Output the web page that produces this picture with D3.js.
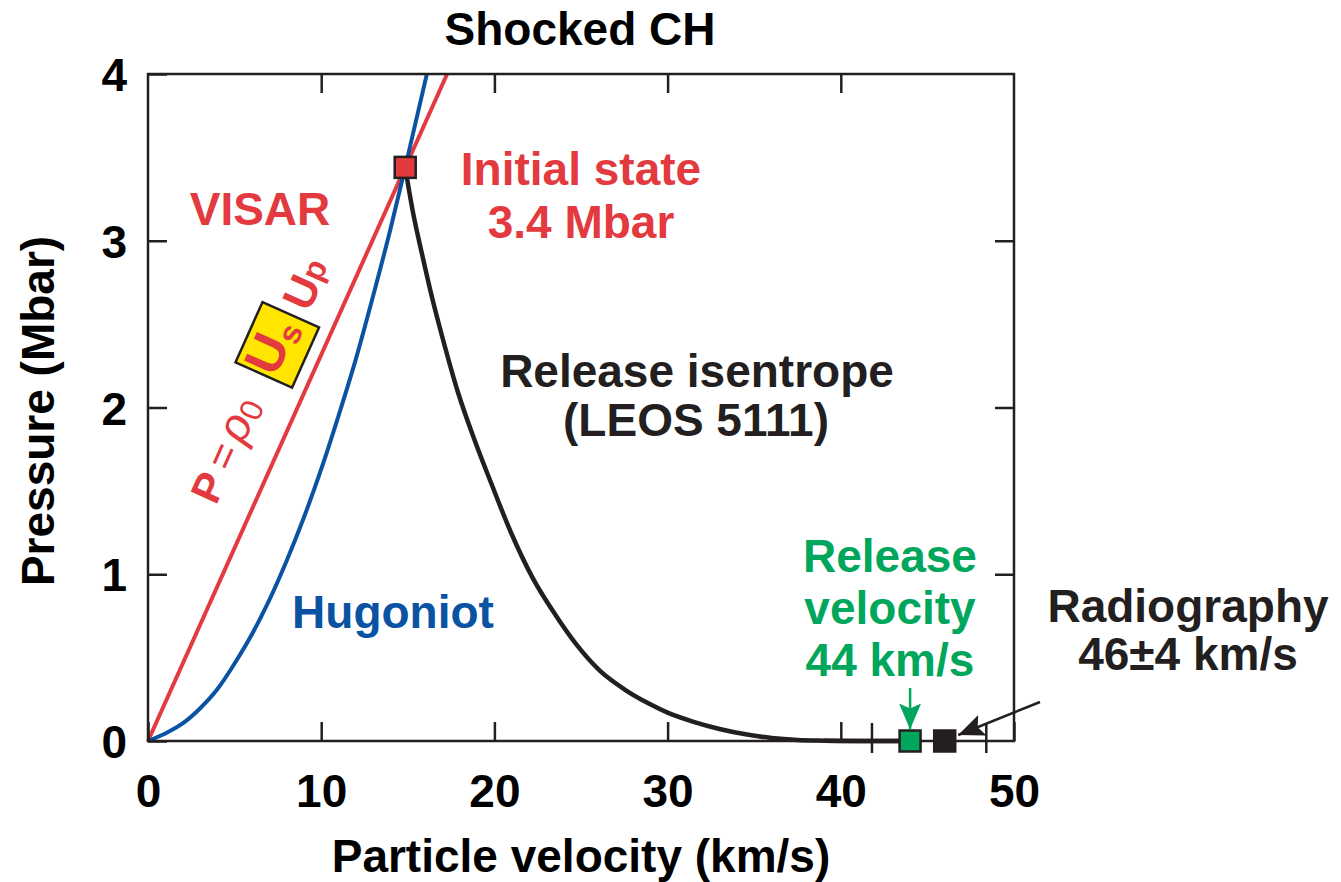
<!DOCTYPE html>
<html>
<head>
<meta charset="utf-8">
<script src="https://cdn.jsdelivr.net/npm/d3@7"></script>
<style>
  html, body { margin: 0; padding: 0; background: #fff; }
  svg { display: block; }
  text { font-family: "Liberation Sans", Arial, Helvetica, sans-serif; font-weight: bold; }
</style>
</head>
<body>
<svg id="chart" width="1341" height="882"></svg>
<script>
// Axis ticks
const xTicks = [0, 10, 20, 30, 40, 50];
const yTicks = [0, 1, 2, 3, 4];

// VISAR line P = rho0 * Us * Up (straight line through the initial state)
const visarU = [0, 17.27];
const visarP = [0, 4.0];

// Principal Hugoniot of CH
const hugoniotU = [0, 1, 2, 3, 4, 5, 6, 7, 8, 9, 10, 11, 12, 13, 14, 14.85, 16.1];
const hugoniotP = [0, 0.045, 0.105, 0.195, 0.31, 0.465, 0.64, 0.845, 1.08, 1.34, 1.63, 1.95, 2.29, 2.67, 3.07, 3.44, 4.0];

// Release isentrope (LEOS 5111) from the initial state
const isentropeU = [14.85, 15.3, 15.8, 16.4, 17.0, 17.9, 18.8, 19.8, 21.0, 22.2, 23.5, 24.8, 26.1, 27.5, 29.0, 30.0, 31.5, 33.0, 34.5, 36.0, 37.5, 39.0, 41.0, 44.0];
const isentropeP = [3.44, 3.17, 2.93, 2.66, 2.42, 2.09, 1.82, 1.55, 1.24, 0.98, 0.76, 0.57, 0.42, 0.31, 0.22, 0.17, 0.115, 0.072, 0.04, 0.018, 0.006, 0.002, 0, 0];

// Marked states
const initialState = [14.85, 3.44];
const releaseVelocity = [44, 0];
const radiographyVelocity = [46, 0];
const radiographyBounds = [41.8, 48.4];

const RED = "#E23A3F", BLUE = "#0A52A2", GREEN = "#00A65B", INK = "#231F20", YELLOW = "#FFE500";

const svg = d3.select("#chart");
const x = d3.scaleLinear().domain([0, 50]).range([148, 1014]);
const y = d3.scaleLinear().domain([0, 4]).range([741, 74]);

const zip = (us, ps) => us.map((u, i) => [u, ps[i]]);
const line = d3.line().x(d => x(d[0])).y(d => y(d[1]));
const smooth = d3.line().x(d => x(d[0])).y(d => y(d[1])).curve(d3.curveMonotoneX);

// Curves
svg.append("path").datum(zip(visarU, visarP)).attr("d", line)
  .attr("fill", "none").attr("stroke", RED).attr("stroke-width", 4);
svg.append("path").datum(zip(hugoniotU, hugoniotP)).attr("d", smooth)
  .attr("fill", "none").attr("stroke", BLUE).attr("stroke-width", 4);
svg.append("path").datum(zip(isentropeU, isentropeP)).attr("d", smooth)
  .attr("fill", "none").attr("stroke", INK).attr("stroke-width", 4.5);

// Axes: ticks inward on all four sides, labels left and bottom
const tickLen = 19;
const axisStyle = g => {
  g.select(".domain").remove();
  g.selectAll(".tick line").attr("stroke", INK).attr("stroke-width", 2.5);
};
svg.append("g").attr("transform", `translate(0,${y(0)})`)
  .call(d3.axisBottom(x).tickValues(xTicks).tickSize(-tickLen).tickPadding(tickLen + 14).tickFormat(d3.format("d")))
  .call(axisStyle)
  .call(g => g.selectAll(".tick text").attr("font-size", 46).attr("fill", "#000")
    .attr("font-family", "Liberation Sans, Arial, sans-serif").attr("font-weight", "bold"));
svg.append("g").attr("transform", `translate(0,${y(4)})`)
  .call(d3.axisTop(x).tickValues(xTicks.slice(1, -1)).tickSize(-tickLen).tickFormat(""))
  .call(axisStyle);
svg.append("g").attr("transform", `translate(${x(0)},0)`)
  .call(d3.axisLeft(y).tickValues(yTicks).tickSize(-tickLen).tickPadding(21).tickFormat(d3.format("d")))
  .call(axisStyle)
  .call(g => g.selectAll(".tick text").attr("font-size", 46).attr("fill", "#000").attr("dy", "0.36em")
    .attr("font-family", "Liberation Sans, Arial, sans-serif").attr("font-weight", "bold"));
svg.append("g").attr("transform", `translate(${x(50)},0)`)
  .call(d3.axisRight(y).tickValues(yTicks.slice(1, -1)).tickSize(-tickLen).tickFormat(""))
  .call(axisStyle);

// Radiography uncertainty marks crossing the axis
svg.selectAll(".errtick").data(radiographyBounds).join("line")
  .attr("x1", d => x(d)).attr("x2", d => x(d))
  .attr("y1", y(0) - 18).attr("y2", y(0) + 12)
  .attr("stroke", INK).attr("stroke-width", 2.5);

// Frame
svg.append("rect").attr("x", x(0)).attr("y", y(4))
  .attr("width", x(50) - x(0)).attr("height", y(0) - y(4))
  .attr("fill", "none").attr("stroke", INK).attr("stroke-width", 2.5);

// Isentrope continues along the axis to the release velocity
svg.append("path").datum(zip(isentropeU.slice(-3), isentropeP.slice(-3))).attr("d", line)
  .attr("fill", "none").attr("stroke", INK).attr("stroke-width", 4.5);

// Markers
const sq = 21;
const marker = (pt, fill) => svg.append("rect")
  .attr("x", x(pt[0]) - sq / 2).attr("y", y(pt[1]) - sq / 2)
  .attr("width", sq).attr("height", sq)
  .attr("fill", fill).attr("stroke", INK).attr("stroke-width", 2.5);
marker(initialState, RED);
marker(releaseVelocity, GREEN);
marker(radiographyVelocity, INK);

// Arrow heads
const defs = svg.append("defs");
const arrowHead = (id, color) => defs.append("marker").attr("id", id)
  .attr("viewBox", "0 0 26 22").attr("refX", 26).attr("refY", 11)
  .attr("markerWidth", 26).attr("markerHeight", 22).attr("markerUnits", "userSpaceOnUse")
  .attr("orient", "auto")
  .append("path").attr("d", "M0,0 L26,11 L0,22 L5,11 Z").attr("fill", color);
arrowHead("hg", GREEN);
arrowHead("hk", INK);

svg.append("line")
  .attr("x1", x(releaseVelocity[0])).attr("y1", 688)
  .attr("x2", x(releaseVelocity[0])).attr("y2", y(0) - sq / 2 - 1)
  .attr("stroke", GREEN).attr("stroke-width", 2.5).attr("marker-end", "url(#hg)");
svg.append("line")
  .attr("x1", 1040).attr("y1", 702)
  .attr("x2", x(radiographyVelocity[0]) + sq / 2 + 3).attr("y2", y(0) - 6)
  .attr("stroke", INK).attr("stroke-width", 2.5).attr("marker-end", "url(#hk)");

// Text labels
const label = (txt, cx, by, color, anchor = "middle") => svg.append("text")
  .attr("x", cx).attr("y", by).attr("text-anchor", anchor)
  .attr("font-size", 46).attr("fill", color).text(txt);

label("Shocked CH", 580, 45, "#000");
label("Particle velocity (km/s)", 581, 872, "#000");
svg.append("text").attr("transform", `translate(54,411) rotate(-90)`)
  .attr("text-anchor", "middle").attr("font-size", 46).attr("fill", "#000").text("Pressure (Mbar)");

label("VISAR", 260, 225, RED);
label("Initial state", 581, 185, RED);
label("3.4 Mbar", 581, 238, RED);
label("Release isentrope", 697, 387, INK);
label("(LEOS 5111)", 696, 436, INK);
label("Hugoniot", 393, 628, BLUE);
label("Release", 890, 572, GREEN);
label("velocity", 890, 624, GREEN);
label("44 km/s", 890, 676, GREEN);
label("Radiography", 1188, 622, INK);
label("46\u00B14 km/s", 1188, 670, INK);

// Formula P = rho0 Us Up written along the VISAR line
const angle = Math.atan2(y(0) - y(4), x(17.27) - x(0)) * 180 / Math.PI;
const f = svg.append("g")
  .attr("transform", `translate(${x(9.73)},${y(2.27)}) rotate(${-angle}) translate(0,-43)`);
f.append("rect").attr("x", -33).attr("y", -31).attr("width", 66).attr("height", 62)
  .attr("fill", YELLOW).attr("stroke", INK).attr("stroke-width", 2.5);
const ft = f.append("text").attr("x", -172).attr("y", 10).attr("font-size", 42).attr("fill", RED);
ft.append("tspan").text("P");
ft.append("tspan").attr("font-weight", "normal").attr("dx", 8).text("=");
ft.append("tspan").attr("font-weight", "normal").attr("font-style", "italic").attr("font-size", 46).attr("dx", 6).text("\u03C1");
ft.append("tspan").attr("font-weight", "normal").attr("font-size", 32).attr("dy", 4).text("0");
const fu = f.append("text").attr("x", -31).attr("y", 12).attr("font-size", 52).attr("fill", RED);
fu.append("tspan").text("U");
fu.append("tspan").attr("font-size", 32).attr("dy", 6).text("s");
const fp = f.append("text").attr("x", 42).attr("y", 16).attr("font-size", 44).attr("fill", RED);
fp.append("tspan").text("U");
fp.append("tspan").attr("font-size", 32).attr("dy", -2).text("p");
</script>
</body>
</html>
